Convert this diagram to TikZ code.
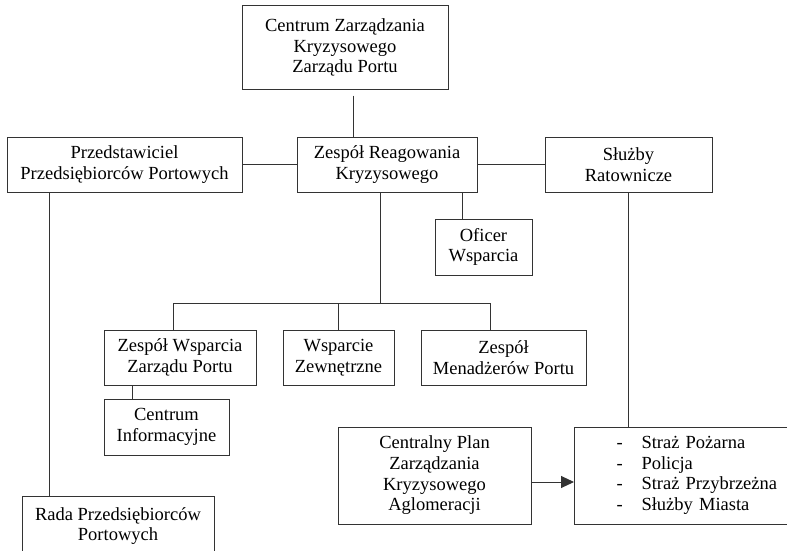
\documentclass[tikz,border=0pt]{standalone}
\usepackage{fontspec}
\setmainfont{Liberation Serif}
\usepackage{tikz}
\usetikzlibrary{arrows.meta,positioning,calc}

\begin{document}
\begin{tikzpicture}[
    x=1pt,y=-1pt,
    box/.style={draw=frame,line width=1pt,align=center,inner sep=0pt,
      minimum height=55pt,font=\fontsize{18.5}{20.7}\selectfont},
    link/.style={draw=frame,line width=1pt}
  ]
  \colorlet{frame}{black!80}
  \useasboundingbox (0,0) rectangle (787,551);
  % top
  \node[box,minimum width=206pt,minimum height=83pt] (czk) at (345,47.5)
    {Centrum Zarządzania\\Kryzysowego\\Zarządu Portu};
  \node[box,minimum width=235pt] (przed) at (124.5,164.5)
    {Przedstawiciel\\Przedsiębiorców Portowych};
  \node[box,minimum width=180pt] (zrk) at (387,164.5)
    {Zespół Reagowania\\Kryzysowego};
  \node[box,minimum width=167pt] (sluzby) at (628.5,164.5)
    {Służby\\Ratownicze};
  \node[box,minimum width=97pt,minimum height=56pt] (oficer) at (483.5,247)
    {Oficer\\Wsparcia};
  % middle row
  \node[box,minimum width=152pt] (zwzp) at (180,357.5)
    {Zespół Wsparcia\\Zarządu Portu};
  \node[box,minimum width=111pt] (wz) at (338.5,357.5)
    {Wsparcie\\Zewnętrzne};
  \node[box,minimum width=165pt] (zmp) at (503.5,357.5)
    {Zespół\\Menadżerów Portu};
  \node[box,minimum width=125pt,minimum height=56pt] (ci) at (166.5,427)
    {Centrum\\Informacyjne};
  % bottom
  \node[box,minimum width=192pt,minimum height=60pt] (rada) at (118,526)
    {Rada Przedsiębiorców\\Portowych};
  \node[box,minimum width=193pt,minimum height=97pt] (cpz) at (434.5,475.5)
    {Centralny Plan\\Zarządzania\\Kryzysowego\\Aglomeracji};
  \node[box,anchor=west,minimum height=97pt,text width=200pt,
    inner xsep=42pt,align=left] (lista) at (574,475.5)
    {\makebox[25pt][l]{-}Straż Pożarna\\
     \makebox[25pt][l]{-}Policja\\
     \makebox[25pt][l]{-}Straż Przybrzeżna\\
     \makebox[25pt][l]{-}Służby Miasta};
  % connectors
  \draw[link,shorten <=6pt] ([xshift=8pt]czk.south) -- ([xshift=8pt]czk.south |- zrk.north);
  \draw[link] (przed) -- (zrk);
  \draw[link] (zrk) -- (sluzby);
  \draw[link] ([xshift=-21pt]oficer.north) -- ([xshift=-21pt]oficer.north |- zrk.south);
  \coordinate (bus) at ([xshift=-7pt,yshift=-111pt]zrk.south);
  \draw[link] ([xshift=-7pt]zrk.south) -- (bus);
  \draw[link] ([xshift=-7pt]zwzp.north) |- (bus) -| ([xshift=-13.5pt]zmp.north);
  \draw[link] (wz.north) -- (wz.north |- bus);
  \draw[link] ([xshift=-48pt]zwzp.south) -- ([xshift=-48pt]zwzp.south |- ci.north);
  \draw[link] ([xshift=-75.5pt]przed.south) -- ([xshift=-75.5pt]przed.south |- rada.north);
  \draw[link] (sluzby.south) -- (sluzby.south |- lista.north);
  \draw[link,-{Triangle[length=13pt,width=12pt]}]
    ([yshift=-6.5pt]cpz.east) -- ([yshift=-6.5pt]cpz.east -| lista.west);
\end{tikzpicture}
\end{document}
